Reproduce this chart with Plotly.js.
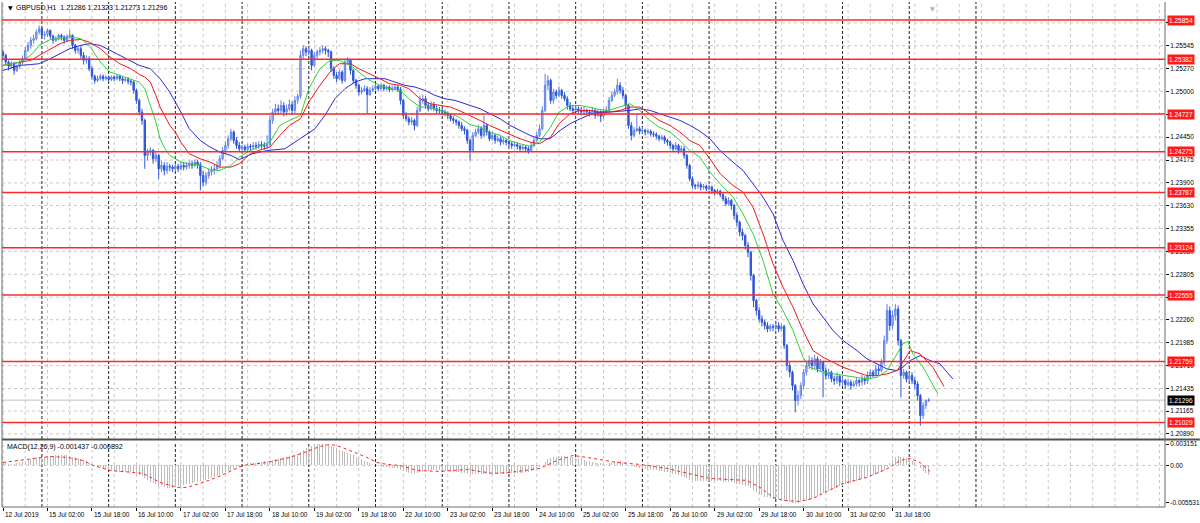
<!DOCTYPE html>
<html><head><meta charset="utf-8">
<script src="https://cdn.plot.ly/plotly-3.0.1.min.js"></script>
<style>html,body{margin:0;padding:0;background:#fff;}#chart{width:1200px;height:523px;}</style>
</head><body><div id="chart"></div>
<script>
const symbolTitle = 'GBPUSD,H1  1.21286 1.21323 1.21273 1.21296';
const macdTitle = 'MACD(12,26,9) -0.001437 -0.000892';
const dateLabels = ['12 Jul 2019','15 Jul 02:00','15 Jul 18:00','16 Jul 10:00','17 Jul 02:00','17 Jul 18:00','18 Jul 10:00','19 Jul 02:00','19 Jul 18:00','22 Jul 10:00','23 Jul 02:00','23 Jul 18:00','24 Jul 10:00','25 Jul 02:00','25 Jul 18:00','26 Jul 10:00','29 Jul 02:00','29 Jul 18:00','30 Jul 10:00','31 Jul 02:00','31 Jul 18:00'];
const labelBars = [0,16,32,48,64,80,96,112,128,144,160,176,192,208,224,240,256,272,288,304,320];
const daySeparatorBars = [14,38,62,86,110,134,158,182,206,230,254,278,302,326,350];
const levelLines = [1.25854,1.25382,1.24727,1.24275,1.23787,1.23124,1.22555,1.21759,1.21029];
const priceTicks = [1.25820,1.25545,1.25270,1.25000,1.24725,1.24450,1.24175,1.23900,1.23630,1.23355,1.23080,1.22805,1.22530,1.22260,1.21985,1.21710,1.21435,1.21165,1.20890];
const macdTicks = [0.003151,0,-0.005531];
const macdTickText = ['0.003151','0.00','-0.005531'];
const bidPrice = 1.21296;

const openP = [1.2547,1.2543,1.2535,1.2530,1.2532,1.2525,1.2530,1.2535,1.2539,1.2549,
1.2555,1.2561,1.2563,1.2571,1.2575,1.2567,1.2568,1.2573,1.2566,1.2561,
1.2563,1.2567,1.2565,1.2561,1.2566,1.2567,1.2555,1.2549,1.2551,1.2543,
1.2537,1.2539,1.2527,1.2518,1.2513,1.2515,1.2518,1.2515,1.2517,1.2514,
1.2517,1.2515,1.2518,1.2515,1.2513,1.2514,1.2512,1.2511,1.2501,1.2489,
1.2475,1.2465,1.2423,1.2427,1.2429,1.2419,1.2423,1.2407,1.2411,1.2405,
1.2410,1.2409,1.2407,1.2410,1.2407,1.2411,1.2409,1.2411,1.2413,1.2411,
1.2415,1.2412,1.2399,1.2391,1.2399,1.2403,1.2405,1.2407,1.2411,1.2419,
1.2429,1.2435,1.2443,1.2451,1.2441,1.2435,1.2431,1.2433,1.2430,1.2434,
1.2433,1.2435,1.2434,1.2436,1.2435,1.2434,1.2436,1.2465,1.2475,1.2479,
1.2477,1.2483,1.2475,1.2479,1.2484,1.2477,1.2489,1.2494,1.2543,1.2551,
1.2547,1.2549,1.2531,1.2543,1.2547,1.2549,1.2551,1.2549,1.2547,1.2527,
1.2519,1.2515,1.2523,1.2513,1.2535,1.2537,1.2525,1.2513,1.2507,1.2499,
1.2501,1.2503,1.2496,1.2501,1.2503,1.2506,1.2503,1.2507,1.2503,1.2505,
1.2502,1.2503,1.2505,1.2502,1.2489,1.2471,1.2467,1.2463,1.2465,1.2459,
1.2477,1.2489,1.2491,1.2483,1.2479,1.2484,1.2479,1.2477,1.2477,1.2475,
1.2473,1.2471,1.2467,1.2465,1.2463,1.2459,1.2455,1.2453,1.2441,1.2429,
1.2447,1.2451,1.2455,1.2447,1.2459,1.2451,1.2443,1.2447,1.2441,1.2443,
1.2439,1.2441,1.2439,1.2437,1.2435,1.2436,1.2434,1.2431,1.2433,1.2431,
1.2429,1.2435,1.2441,1.2447,1.2455,1.2477,1.2507,1.2513,1.2489,1.2499,
1.2495,1.2501,1.2495,1.2491,1.2483,1.2479,1.2477,1.2479,1.2477,1.2475,
1.2477,1.2475,1.2473,1.2477,1.2471,1.2475,1.2470,1.2475,1.2477,1.2489,
1.2495,1.2499,1.2507,1.2501,1.2495,1.2483,1.2459,1.2447,1.2453,1.2455,
1.2452,1.2453,1.2451,1.2452,1.2449,1.2448,1.2446,1.2443,1.2445,1.2441,
1.2439,1.2435,1.2431,1.2435,1.2429,1.2431,1.2423,1.2411,1.2395,1.2387,
1.2386,1.2388,1.2385,1.2386,1.2383,1.2385,1.2381,1.2379,1.2380,1.2376,
1.2371,1.2365,1.2369,1.2363,1.2351,1.2343,1.2331,1.2327,1.2315,1.2307,
1.2279,1.2249,1.2237,1.2227,1.2223,1.2219,1.2215,1.2218,1.2217,1.2219,
1.2215,1.2218,1.2195,1.2171,1.2163,1.2147,1.2129,1.2135,1.2147,1.2163,
1.2171,1.2177,1.2171,1.2179,1.2167,1.2175,1.2165,1.2159,1.2163,1.2155,
1.2153,1.2158,1.2151,1.2153,1.2148,1.2151,1.2147,1.2149,1.2153,1.2151,
1.2155,1.2153,1.2159,1.2163,1.2160,1.2167,1.2165,1.2175,1.2201,1.2237,
1.2219,1.2231,1.2239,1.2201,1.2159,1.2163,1.2155,1.2159,1.2153,1.2149,
1.2135,1.2111,1.2123,1.21286];

const highP = [1.2550,1.2545,1.2537,1.2536,1.2535,1.2532,1.2537,1.2543,1.2553,1.2559,
1.2565,1.2568,1.2574,1.2579,1.2577,1.2572,1.2575,1.2574,1.2568,1.2566,
1.2569,1.2569,1.2567,1.2568,1.2573,1.2568,1.2557,1.2554,1.2554,1.2547,
1.2543,1.2542,1.2530,1.2520,1.2519,1.2521,1.2520,1.2519,1.2519,1.2519,
1.2519,1.2520,1.2520,1.2518,1.2517,1.2517,1.2514,1.2513,1.2503,1.2491,
1.2479,1.2467,1.2431,1.2433,1.2431,1.2427,1.2425,1.2417,1.2415,1.2415,
1.2413,1.2412,1.2413,1.2413,1.2415,1.2415,1.2415,1.2417,1.2417,1.2418,
1.2418,1.2415,1.2405,1.2403,1.2407,1.2410,1.2412,1.2416,1.2423,1.2433,
1.2440,1.2447,1.2455,1.2453,1.2445,1.2439,1.2436,1.2436,1.2437,1.2437,
1.2439,1.2439,1.2440,1.2440,1.2439,1.2447,1.2471,1.2479,1.2485,1.2484,
1.2489,1.2487,1.2484,1.2490,1.2488,1.2494,1.2497,1.2549,1.2555,1.2554,
1.2553,1.2551,1.2547,1.2550,1.2553,1.2555,1.2554,1.2551,1.2549,1.2530,
1.2523,1.2526,1.2525,1.2539,1.2541,1.2539,1.2527,1.2515,1.2509,1.2505,
1.2507,1.2506,1.2505,1.2507,1.2509,1.2508,1.2509,1.2509,1.2507,1.2507,
1.2507,1.2507,1.2507,1.2505,1.2491,1.2475,1.2470,1.2469,1.2467,1.2481,
1.2495,1.2496,1.2494,1.2487,1.2488,1.2487,1.2483,1.2481,1.2479,1.2478,
1.2476,1.2473,1.2470,1.2467,1.2465,1.2463,1.2458,1.2455,1.2443,1.2451,
1.2455,1.2460,1.2458,1.2471,1.2461,1.2453,1.2451,1.2449,1.2447,1.2446,
1.2445,1.2443,1.2441,1.2440,1.2440,1.2439,1.2436,1.2436,1.2435,1.2434,
1.2439,1.2445,1.2451,1.2460,1.2482,1.2521,1.2519,1.2515,1.2503,1.2502,
1.2506,1.2503,1.2499,1.2494,1.2487,1.2483,1.2483,1.2482,1.2481,1.2481,
1.2479,1.2478,1.2481,1.2479,1.2478,1.2477,1.2478,1.2482,1.2493,1.2500,
1.2503,1.2515,1.2511,1.2505,1.2497,1.2485,1.2463,1.2457,1.2473,1.2458,
1.2457,1.2455,1.2455,1.2454,1.2452,1.2451,1.2448,1.2448,1.2447,1.2443,
1.2441,1.2437,1.2439,1.2437,1.2435,1.2434,1.2425,1.2413,1.2398,1.2389,
1.2392,1.2391,1.2389,1.2388,1.2388,1.2387,1.2383,1.2383,1.2382,1.2379,
1.2374,1.2373,1.2371,1.2365,1.2355,1.2345,1.2335,1.2329,1.2319,1.2309,
1.2281,1.2251,1.2241,1.2231,1.2226,1.2223,1.2221,1.2221,1.2223,1.2223,
1.2221,1.2220,1.2197,1.2175,1.2165,1.2149,1.2141,1.2151,1.2167,1.2177,
1.2183,1.2181,1.2184,1.2182,1.2179,1.2177,1.2169,1.2167,1.2165,1.2159,
1.2163,1.2160,1.2158,1.2155,1.2155,1.2154,1.2153,1.2157,1.2155,1.2160,
1.2158,1.2164,1.2167,1.2166,1.2172,1.2171,1.2179,1.2207,1.2245,1.2242,
1.2237,1.2245,1.2243,1.2203,1.2167,1.2165,1.2163,1.2163,1.2157,1.2152,
1.2137,1.2127,1.2130,1.21323];

const lowP = [1.2539,1.2532,1.2525,1.2527,1.2520,1.2523,1.2527,1.2532,1.2537,1.2547,
1.2551,1.2557,1.2561,1.2568,1.2563,1.2562,1.2565,1.2563,1.2557,1.2559,
1.2561,1.2561,1.2557,1.2559,1.2563,1.2551,1.2545,1.2545,1.2539,1.2532,
1.2533,1.2524,1.2514,1.2509,1.2511,1.2513,1.2512,1.2513,1.2511,1.2512,
1.2512,1.2513,1.2512,1.2509,1.2511,1.2508,1.2507,1.2497,1.2485,1.2471,
1.2460,1.2407,1.2417,1.2423,1.2413,1.2415,1.2395,1.2403,1.2399,1.2401,
1.2404,1.2403,1.2404,1.2403,1.2405,1.2405,1.2406,1.2407,1.2407,1.2409,
1.2407,1.2381,1.2386,1.2387,1.2395,1.2399,1.2400,1.2404,1.2407,1.2417,
1.2425,1.2431,1.2440,1.2437,1.2431,1.2428,1.2428,1.2427,1.2428,1.2429,
1.2430,1.2430,1.2431,1.2431,1.2430,1.2431,1.2434,1.2461,1.2471,1.2472,
1.2473,1.2470,1.2471,1.2476,1.2472,1.2473,1.2485,1.2491,1.2539,1.2542,
1.2543,1.2525,1.2529,1.2539,1.2543,1.2545,1.2544,1.2541,1.2523,1.2515,
1.2511,1.2513,1.2509,1.2511,1.2531,1.2520,1.2509,1.2503,1.2495,1.2496,
1.2499,1.2473,1.2494,1.2499,1.2501,1.2500,1.2501,1.2500,1.2501,1.2499,
1.2500,1.2501,1.2499,1.2484,1.2467,1.2464,1.2459,1.2460,1.2453,1.2457,
1.2475,1.2485,1.2479,1.2476,1.2477,1.2476,1.2473,1.2473,1.2471,1.2470,
1.2467,1.2464,1.2461,1.2459,1.2455,1.2452,1.2448,1.2437,1.2417,1.2427,
1.2445,1.2448,1.2443,1.2445,1.2447,1.2440,1.2441,1.2437,1.2439,1.2435,
1.2436,1.2435,1.2434,1.2431,1.2433,1.2430,1.2428,1.2429,1.2428,1.2425,
1.2427,1.2433,1.2439,1.2445,1.2453,1.2475,1.2501,1.2485,1.2485,1.2491,
1.2493,1.2491,1.2488,1.2478,1.2476,1.2473,1.2475,1.2473,1.2471,1.2472,
1.2471,1.2470,1.2471,1.2467,1.2469,1.2463,1.2467,1.2472,1.2475,1.2487,
1.2493,1.2496,1.2497,1.2491,1.2477,1.2455,1.2441,1.2445,1.2451,1.2448,
1.2449,1.2447,1.2448,1.2446,1.2445,1.2442,1.2440,1.2441,1.2437,1.2435,
1.2431,1.2428,1.2429,1.2425,1.2427,1.2419,1.2407,1.2392,1.2383,1.2382,
1.2383,1.2381,1.2382,1.2380,1.2381,1.2377,1.2375,1.2376,1.2373,1.2368,
1.2362,1.2363,1.2358,1.2346,1.2338,1.2326,1.2321,1.2310,1.2301,1.2273,
1.2241,1.2231,1.2223,1.2218,1.2214,1.2211,1.2212,1.2212,1.2213,1.2211,
1.2212,1.2191,1.2165,1.2157,1.2141,1.2115,1.2123,1.2131,1.2143,1.2159,
1.2167,1.2166,1.2167,1.2163,1.2164,1.2133,1.2154,1.2155,1.2151,1.2148,
1.2149,1.2146,1.2147,1.2143,1.2146,1.2142,1.2145,1.2146,1.2146,1.2147,
1.2148,1.2149,1.2155,1.2157,1.2158,1.2160,1.2163,1.2171,1.2197,1.2213,
1.2215,1.2225,1.2195,1.2133,1.2155,1.2151,1.2152,1.2149,1.2143,1.2129,
1.2099,1.2107,1.2119,1.21273];

const closeP = [1.2543,1.2535,1.2530,1.2532,1.2525,1.2530,1.2535,1.2539,1.2549,1.2555,
1.2561,1.2563,1.2571,1.2575,1.2567,1.2568,1.2573,1.2566,1.2561,1.2563,
1.2567,1.2565,1.2561,1.2566,1.2567,1.2555,1.2549,1.2551,1.2543,1.2537,
1.2539,1.2527,1.2518,1.2513,1.2515,1.2518,1.2515,1.2517,1.2514,1.2517,
1.2515,1.2518,1.2515,1.2513,1.2514,1.2512,1.2511,1.2501,1.2489,1.2475,
1.2465,1.2423,1.2427,1.2429,1.2419,1.2423,1.2407,1.2411,1.2405,1.2410,
1.2409,1.2407,1.2410,1.2407,1.2411,1.2409,1.2411,1.2413,1.2411,1.2415,
1.2412,1.2399,1.2391,1.2399,1.2403,1.2405,1.2407,1.2411,1.2419,1.2429,
1.2435,1.2443,1.2451,1.2441,1.2435,1.2431,1.2433,1.2430,1.2434,1.2433,
1.2435,1.2434,1.2436,1.2435,1.2434,1.2436,1.2465,1.2475,1.2479,1.2477,
1.2483,1.2475,1.2479,1.2484,1.2477,1.2489,1.2494,1.2543,1.2551,1.2547,
1.2549,1.2531,1.2543,1.2547,1.2549,1.2551,1.2549,1.2547,1.2527,1.2519,
1.2515,1.2523,1.2513,1.2535,1.2537,1.2525,1.2513,1.2507,1.2499,1.2501,
1.2503,1.2496,1.2501,1.2503,1.2506,1.2503,1.2507,1.2503,1.2505,1.2502,
1.2503,1.2505,1.2502,1.2489,1.2471,1.2467,1.2463,1.2465,1.2459,1.2477,
1.2489,1.2491,1.2483,1.2479,1.2484,1.2479,1.2477,1.2477,1.2475,1.2473,
1.2471,1.2467,1.2465,1.2463,1.2459,1.2455,1.2453,1.2441,1.2429,1.2447,
1.2451,1.2455,1.2447,1.2459,1.2451,1.2443,1.2447,1.2441,1.2443,1.2439,
1.2441,1.2439,1.2437,1.2435,1.2436,1.2434,1.2431,1.2433,1.2431,1.2429,
1.2435,1.2441,1.2447,1.2455,1.2477,1.2507,1.2513,1.2489,1.2499,1.2495,
1.2501,1.2495,1.2491,1.2483,1.2479,1.2477,1.2479,1.2477,1.2475,1.2477,
1.2475,1.2473,1.2477,1.2471,1.2475,1.2470,1.2475,1.2477,1.2489,1.2495,
1.2499,1.2507,1.2501,1.2495,1.2483,1.2459,1.2447,1.2453,1.2455,1.2452,
1.2453,1.2451,1.2452,1.2449,1.2448,1.2446,1.2443,1.2445,1.2441,1.2439,
1.2435,1.2431,1.2435,1.2429,1.2431,1.2423,1.2411,1.2395,1.2387,1.2386,
1.2388,1.2385,1.2386,1.2383,1.2385,1.2381,1.2379,1.2380,1.2376,1.2371,
1.2365,1.2369,1.2363,1.2351,1.2343,1.2331,1.2327,1.2315,1.2307,1.2279,
1.2249,1.2237,1.2227,1.2223,1.2219,1.2215,1.2218,1.2217,1.2219,1.2215,
1.2218,1.2195,1.2171,1.2163,1.2147,1.2129,1.2135,1.2147,1.2163,1.2171,
1.2177,1.2171,1.2179,1.2167,1.2175,1.2165,1.2159,1.2163,1.2155,1.2153,
1.2158,1.2151,1.2153,1.2148,1.2151,1.2147,1.2149,1.2153,1.2151,1.2155,
1.2153,1.2159,1.2163,1.2160,1.2167,1.2165,1.2175,1.2201,1.2237,1.2219,
1.2231,1.2239,1.2201,1.2159,1.2163,1.2155,1.2159,1.2153,1.2149,1.2135,
1.2111,1.2123,1.2129,1.21296];

// Alligator lines (bar index, price)
const lipsX = [0,6,10,13,17,20.5,24,28,31,35,38.5,42,46,49,51,53,55,56.5,58.3,60,64,67,71,74.5,78,82,85,89,92,96,99.6,103,107,110,114,117.6,121,125,128,132,135.6,139,143,146,150,153.6,157,161,164,168,171.6,175,179,182,186,189.6,193,197,200,204,207.6,211,214.7,218,222,225.5,229,232.7,236,240,243.5,247,250.7,254.3,258,262.6,266.2,269.8,273.4,277,280.6,284.2,287.8,290.3,295,298.6,302.2,307.2,310.8,314.4,318,321.6,323.7,325.5,327.3,331,334.5,336.3];
const lipsY = [1.2531,1.2535,1.2543,1.2555,1.2562,1.2563,1.2565,1.2563,1.2555,1.2535,1.2523,1.2519,1.2515,1.2511,1.2503,1.2483,1.2463,1.2443,1.2431,1.2423,1.2415,1.2413,1.2411,1.2406,1.2405,1.2411,1.2421,1.2429,1.2433,1.2439,1.2459,1.2465,1.2471,1.2503,1.2527,1.2537,1.2537,1.2531,1.2523,1.2513,1.2507,1.2503,1.2501,1.2491,1.2481,1.2481,1.2477,1.2473,1.2469,1.2460,1.2457,1.2451,1.2447,1.2441,1.2437,1.2434,1.2439,1.2457,1.2475,1.2483,1.2483,1.2481,1.2478,1.2477,1.2481,1.2485,1.2477,1.2465,1.2457,1.2451,1.2441,1.2429,1.2421,1.2403,1.2389,1.2373,1.2353,1.2329,1.2297,1.2257,1.2237,1.2213,1.2181,1.2169,1.2163,1.2161,1.2159,1.2157,1.2155,1.2157,1.2165,1.2185,1.2197,1.2200,1.2185,1.2169,1.2149,1.2137];
const teethX = [0,6,10,13,17,20.5,24,28,31,35,38.5,42,46,49,51,53,55,56.5,60,62,64,67,71,74.5,78,82,85,89,92,96,99.6,103,107,110,114,117.6,121,125,128,132,135.6,139,143,146,150,153.6,157,161,164,168,171.6,175,179,182,186,189.6,193,197,200,204,207.6,211,214.7,218,222,225.5,229,232.7,236,240,243.5,247,250.7,254.3,258,262.6,266.2,269.8,273.4,277,280.6,284.2,287.8,291.4,295,298.6,302.2,307.2,310.8,314.4,318,321.6,323.7,326.3,329.9,334.5,337.1,338.5];
const teethY = [1.2531,1.2535,1.2537,1.2543,1.2551,1.2557,1.2561,1.2562,1.2559,1.2551,1.2541,1.2533,1.2527,1.2520,1.2517,1.2511,1.2495,1.2481,1.2459,1.2451,1.2439,1.2425,1.2419,1.2415,1.2409,1.2409,1.2413,1.2425,1.2429,1.2433,1.2447,1.2459,1.2467,1.2487,1.2507,1.2523,1.2533,1.2533,1.2527,1.2521,1.2515,1.2509,1.2507,1.2503,1.2491,1.2485,1.2483,1.2481,1.2477,1.2471,1.2465,1.2459,1.2453,1.2449,1.2443,1.2439,1.2437,1.2445,1.2461,1.2473,1.2477,1.2477,1.2475,1.2475,1.2477,1.2481,1.2481,1.2473,1.2465,1.2459,1.2451,1.2441,1.2435,1.2419,1.2401,1.2387,1.2379,1.2361,1.2329,1.2293,1.2265,1.2241,1.2213,1.2189,1.2181,1.2175,1.2169,1.2163,1.2159,1.2159,1.2161,1.2165,1.2175,1.2189,1.2185,1.2169,1.2153,1.2146];
const jawX = [0,6,10,13,17,20.5,24,28,31,35,38.5,42,46,49,53,56.5,60,64,67,71,74.5,78,82,85,89.6,95.3,101.4,105,108.6,112.2,115.8,119.4,123,126.6,130.2,133.8,137.4,141,144.6,148.2,151.8,155.4,159,162.6,166.2,169.8,171.6,175.2,178.8,182.4,186,189.6,193.2,196.8,200.4,204,207.6,211.2,214.7,218.3,221.9,225.5,229.1,232.7,236.3,239.9,243.5,247.1,250.7,254.3,257.9,262.6,266.2,269.8,273.4,277,280.6,284.2,287.8,291.4,295,298.6,302.2,307.2,310.8,314.4,318,321.6,323.7,326.3,329.9,333.5,337.1,339.6,341.7];
const jawY = [1.2525,1.2531,1.2532,1.2533,1.2539,1.2545,1.2551,1.2555,1.2557,1.2555,1.2549,1.2543,1.2537,1.2531,1.2527,1.2515,1.2499,1.2475,1.2455,1.2441,1.2433,1.2427,1.2423,1.2418,1.2425,1.2429,1.2431,1.2439,1.2447,1.2455,1.2471,1.2491,1.2503,1.2511,1.2515,1.2515,1.2515,1.2511,1.2507,1.2505,1.2501,1.2495,1.2491,1.2489,1.2485,1.2481,1.2479,1.2473,1.2467,1.2459,1.2453,1.2447,1.2443,1.2443,1.2453,1.2461,1.2467,1.2472,1.2475,1.2475,1.2476,1.2477,1.2479,1.2477,1.2473,1.2469,1.2465,1.2459,1.2452,1.2443,1.2429,1.2415,1.2405,1.2389,1.2373,1.2353,1.2321,1.2297,1.2269,1.2245,1.2229,1.2213,1.2201,1.2189,1.2179,1.2173,1.2167,1.2165,1.2169,1.2177,1.2183,1.2177,1.2173,1.2163,1.2155];

// MACD main (histogram), one value per bar
const macdMain = [0.0004,0.0003,0.0002,0.0002,0.0002,0.0003,0.0004,0.0005,0.0006,0.0008,0.0009,0.0011,0.0012,0.0013,0.0013,0.0013,0.0014,
0.0014,0.0014,0.0015,0.0015,0.0015,0.0015,0.0015,0.0014,0.0013,0.0012,0.0011,0.0010,0.0008,0.0006,
0.0004,0.0002,0.0000,-0.0002,-0.0003,-0.0004,-0.0005,
-0.0006,-0.0007,-0.0008,-0.0008,-0.0009,-0.0009,-0.0010,-0.0010,-0.0010,-0.0011,-0.0012,-0.0014,
-0.0016,-0.0019,-0.0022,-0.0024,-0.0026,-0.0028,-0.0030,-0.0031,-0.0032,-0.0033,-0.0033,-0.0033,-0.0032,
-0.0031,-0.0030,-0.0029,-0.0028,-0.0027,-0.0026,-0.0025,-0.0024,-0.0023,-0.0022,-0.0021,-0.0020,-0.0019,-0.0017,-0.0016,-0.0014,-0.0012,-0.0010,-0.0008,-0.0006,-0.0005,-0.0003,-0.0002,
0.0000,0.0001,0.0002,0.0003,0.0004,0.0004,0.0005,0.0005,0.0006,0.0006,
0.0007,0.0008,0.0009,0.0010,0.0011,0.0012,0.0013,0.0014,0.0015,0.0016,0.0017,
0.0020,0.0023,0.0026,0.0028,0.0029,0.0030,0.0031,0.0031,0.0031,0.0031,0.0030,0.0029,
0.0027,0.0025,0.0023,0.0021,0.0020,0.0019,0.0017,0.0015,0.0013,0.0011,0.0009,0.0007,0.0005,0.0004,0.0002,0.0001,
-0.0001,-0.0002,-0.0002,-0.0003,-0.0003,-0.0004,-0.0004,-0.0004,
-0.0006,-0.0008,-0.0010,-0.0011,-0.0012,-0.0012,-0.0011,-0.0010,-0.0009,-0.0008,-0.0008,-0.0007,-0.0007,-0.0007,-0.0007,-0.0008,
-0.0008,-0.0008,-0.0009,-0.0009,-0.0010,-0.0010,-0.0011,-0.0011,-0.0012,-0.0013,-0.0013,-0.0013,-0.0013,-0.0013,-0.0012,-0.0012,-0.0012,-0.0012,-0.0012,-0.0012,-0.0012,-0.0012,-0.0012,-0.0011,-0.0011,
-0.0011,-0.0011,-0.0011,-0.0011,-0.0010,-0.0009,-0.0008,-0.0006,-0.0004,-0.0002,0.0001,
0.0005,0.0009,0.0011,0.0012,0.0013,0.0014,0.0014,0.0014,0.0013,0.0013,0.0012,
0.0011,0.0010,0.0009,0.0008,0.0007,0.0006,0.0005,0.0004,0.0003,0.0003,0.0002,0.0002,0.0003,0.0004,0.0005,0.0006,0.0006,0.0005,0.0003,0.0001,-0.0001,-0.0002,-0.0003,-0.0004,
-0.0005,-0.0005,-0.0006,-0.0006,-0.0007,-0.0007,-0.0008,-0.0008,-0.0009,-0.0010,-0.0011,-0.0012,-0.0013,-0.0014,-0.0015,-0.0017,-0.0019,-0.0021,-0.0022,-0.0023,-0.0023,-0.0023,-0.0023,-0.0023,
-0.0023,-0.0023,-0.0023,-0.0023,-0.0023,-0.0024,-0.0024,-0.0025,-0.0025,-0.0026,-0.0027,-0.0028,-0.0029,-0.0030,-0.0031,-0.0033,-0.0036,
-0.0039,-0.0042,-0.0044,-0.0046,-0.0047,-0.0048,-0.0049,-0.0050,-0.0050,-0.0051,-0.0052,-0.0053,-0.0054,-0.0055,-0.0055,-0.0055,-0.0054,-0.0053,-0.0052,-0.0051,
-0.0049,-0.0047,-0.0045,-0.0043,-0.0041,-0.0039,-0.0037,-0.0036,-0.0034,-0.0033,-0.0031,-0.0030,
-0.0028,-0.0027,-0.0026,-0.0024,-0.0023,-0.0022,-0.0020,-0.0019,-0.0017,-0.0016,-0.0014,-0.0013,-0.0011,-0.0009,-0.0006,-0.0003,
0.0003,0.0008,0.0012,0.0014,0.0013,0.0012,0.0011,0.0009,
0.0006,0.0003,0.0000,-0.0004,-0.0008,-0.0011,-0.00144];

const signalX = [0,10.8,16.9,23,28.8,32.4,38.5,46.8,50.4,56.5,62.6,66.2,70.9,77,82.7,86.3,95,103.2,109.4,114,117.6,120.1,124.8,130.9,134.5,138.1,142.8,148.9,157.2,166.9,176.3,182.4,193.2,199.3,205,210.1,220.9,229.1,238.8,247.1,254.3,260.4,267.6,272.3,277,280.6,286.7,291.4,302.2,310.8,319.1,322.7,326.3,329.9,333.5];
const signalY = [0.00044,0.00103,0.00132,0.00118,0.00074,0,-0.00074,-0.00103,-0.00118,-0.0025,-0.00323,-0.00323,-0.00265,-0.00176,-0.00074,0,0.00044,0.00118,0.00206,0.0028,0.00309,0.00294,0.0022,0.00118,0.00044,0.00015,0,-0.00074,-0.00088,-0.00059,-0.00118,-0.00103,-0.00044,0.00074,0.00147,0.00118,0.00044,0.00015,-0.00044,-0.00118,-0.00191,-0.00206,-0.0022,-0.00323,-0.0047,-0.00515,-0.0053,-0.00485,-0.00265,-0.00176,-0.0003,0.00074,0.00103,0.00044,-0.00089];

const FONT = 'Liberation Sans, Arial, sans-serif';
const AXF = 6.5;
const barIdx = closeP.map((_, i) => i);

const traces = [
  {type:'candlestick', x:barIdx, open:openP, high:highP, low:lowP, close:closeP, xaxis:'x', yaxis:'y',
   increasing:{line:{color:'#5f82e6', width:1}, fillcolor:'#b7c7f3'},
   decreasing:{line:{color:'#2d56d6', width:1}, fillcolor:'#2d56d6'},
   whiskerwidth:0, hoverinfo:'skip', showlegend:false},
  {type:'scatter', mode:'lines', x:jawX, y:jawY, xaxis:'x', yaxis:'y', line:{color:'#2a2ad8', width:1}, hoverinfo:'skip'},
  {type:'scatter', mode:'lines', x:teethX, y:teethY, xaxis:'x', yaxis:'y', line:{color:'#f01818', width:1}, hoverinfo:'skip'},
  {type:'scatter', mode:'lines', x:lipsX, y:lipsY, xaxis:'x', yaxis:'y', line:{color:'#33d033', width:1}, hoverinfo:'skip'},
  {type:'bar', x:barIdx, y:macdMain, xaxis:'x', yaxis:'y2', width:0.36, marker:{color:'#bcbcbc', line:{width:0}}, hoverinfo:'skip'},
  {type:'scatter', mode:'lines', x:signalX, y:signalY, xaxis:'x', yaxis:'y2', line:{color:'#ff2020', width:1, dash:'dot'}, hoverinfo:'skip'}
];

const shapes = [];
for (let g = 0; g <= 418; g += 8) {
  ['y domain','y2 domain'].forEach(yr => shapes.push({type:'line', xref:'x', yref:yr, x0:g, x1:g, y0:0, y1:1, layer:'below', line:{color:'#c8c8c8', width:1, dash:'3px,3px'}}));
}
priceTicks.forEach(v => shapes.push({type:'line', xref:'paper', yref:'y', x0:0, x1:1, y0:v, y1:v, layer:'below', line:{color:'#c8c8c8', width:1, dash:'3px,3px'}}));
shapes.push({type:'line', xref:'paper', yref:'y2', x0:0, x1:1, y0:0, y1:0, layer:'below', line:{color:'#c8c8c8', width:1, dash:'3px,3px'}});
daySeparatorBars.forEach(d => {
  ['y domain','y2 domain'].forEach(yr => shapes.push({type:'line', xref:'x', yref:yr, x0:d, x1:d, y0:0, y1:1, layer:'below', line:{color:'#202020', width:1, dash:'3px,2px'}}));
});
shapes.push({type:'line', xref:'paper', yref:'y', x0:0, x1:1, y0:bidPrice, y1:bidPrice, layer:'below', line:{color:'#c0c0c0', width:1}});
levelLines.forEach(v => shapes.push({type:'line', xref:'paper', yref:'y', x0:0, x1:1, y0:v, y1:v, layer:'above', line:{color:'rgb(255,40,40)', width:1.5}}));
shapes.push({type:'line', xref:'paper', yref:'paper', x0:0, x1:1.03, y0:0.1337, y1:0.1337, line:{color:'#505050', width:2}});
shapes.push({type:'line', xref:'paper', yref:'paper', x0:1, x1:1, y0:0, y1:1, line:{color:'#6a6a6a', width:1}});
shapes.push({type:'line', xref:'paper', yref:'paper', x0:0, x1:0, y0:0, y1:1, line:{color:'#6a6a6a', width:1}});
shapes.push({type:'line', xref:'paper', yref:'paper', x0:0, x1:1, y0:0, y1:0, line:{color:'#6a6a6a', width:1}});

const annotations = [];
annotations.push({xref:'paper', yref:'paper', x:0.0035, y:0.989, xanchor:'left', yanchor:'middle', showarrow:false, text:'▼', font:{family:'DejaVu Sans', size:6, color:'#000'}});
annotations.push({xref:'paper', yref:'paper', x:0.0103, y:0.989, xanchor:'left', yanchor:'middle', showarrow:false, text:symbolTitle, font:{family:FONT, size:7, color:'#000'}});
annotations.push({xref:'x', yref:'paper', x:334.5, y:0.998, xanchor:'center', yanchor:'top', showarrow:false, text:'▼', font:{family:'DejaVu Sans', size:6, color:'#b0b0b0'}});
annotations.push({xref:'paper', yref:'paper', x:0.0026, y:0.119, xanchor:'left', yanchor:'middle', showarrow:false, text:macdTitle, font:{family:FONT, size:7, color:'#000'}});
dateLabels.forEach((t, i) => annotations.push({xref:'x', yref:'paper', x:labelBars[i], y:-0.003, xanchor:'left', yanchor:'top', showarrow:false, text:t, font:{family:FONT, size:AXF, color:'#000'}}));
levelLines.forEach(v => annotations.push({xref:'paper', yref:'y', x:1.0017, y:v, xanchor:'left', yanchor:'middle', showarrow:false, text:v.toFixed(5), bgcolor:'#ff1a1a', borderpad:1, font:{family:FONT, size:AXF, color:'#ffffff'}}));
annotations.push({xref:'paper', yref:'y', x:1.0017, y:bidPrice, xanchor:'left', yanchor:'middle', showarrow:false, text:bidPrice.toFixed(5), bgcolor:'#000000', borderpad:1, font:{family:FONT, size:AXF, color:'#ffffff'}});

const layout = {
  width:1200, height:523,
  margin:{l:2, r:35, t:2, b:16},
  paper_bgcolor:'#ffffff', plot_bgcolor:'#ffffff',
  showlegend:false, bargap:0, boxgap:0.3,
  xaxis:{range:[-0.36, 418], anchor:'y2', showgrid:false, zeroline:false, showticklabels:false,
         tickvals:labelBars, ticks:'outside', ticklen:3, tickcolor:'#000', showline:false,
         rangeslider:{visible:false}, fixedrange:true},
  yaxis:{domain:[0.1347, 1], range:[1.2083, 1.2607], side:'right', anchor:'x',
         tickvals:priceTicks, ticktext:priceTicks.map(v => v.toFixed(5)),
         ticks:'outside', ticklen:3, tickcolor:'#000', showgrid:false, zeroline:false, showline:false,
         tickfont:{family:FONT, size:AXF, color:'#000'}, fixedrange:true},
  yaxis2:{domain:[0, 0.1287], range:[-0.00612, 0.00345], side:'right', anchor:'x',
          tickvals:macdTicks, ticktext:macdTickText,
          ticks:'outside', ticklen:3, tickcolor:'#000', showgrid:false, zeroline:false, showline:false,
          tickfont:{family:FONT, size:AXF, color:'#000'}, fixedrange:true},
  shapes:shapes, annotations:annotations
};

Plotly.newPlot('chart', traces, layout, {displayModeBar:false, staticPlot:true});
</script>
</body></html>
